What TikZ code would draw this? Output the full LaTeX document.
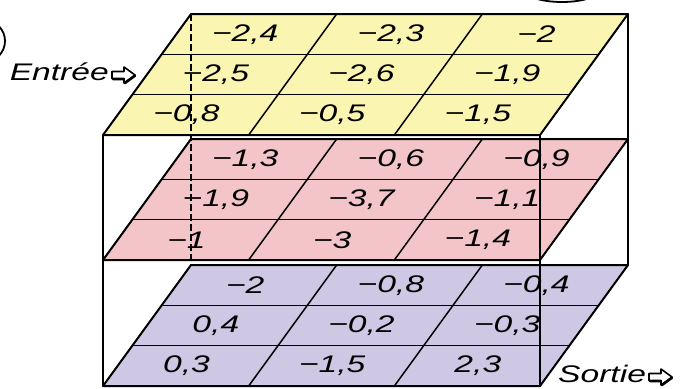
\documentclass[tikz,border=0pt]{standalone}
\usepackage{fontspec}
\setmainfont{Liberation Sans}[FakeStretch=1.4]
\usetikzlibrary{calc}
\definecolor{ylw}{RGB}{250,245,176}
\definecolor{pnk}{RGB}{243,197,201}
\definecolor{plm}{RGB}{206,200,229}
\newcommand\mklayer[3]{%
  \coordinate (#1-fl) at (103,#2);
  \coordinate (#1-fr) at (540,#2);
  \coordinate (#1-br) at (628,{#2-121});
  \coordinate (#1-bl) at (191,{#2-121});
  \fill[#3] (#1-fl) -- (#1-fr) -- (#1-br) -- (#1-bl) -- cycle;
  \foreach \t in {1,2} {
    \draw[gridline] ($(#1-fl)!\t/3!(#1-bl)$) -- ($(#1-fr)!\t/3!(#1-br)$);
    \draw[gridline] ($(#1-fl)!\t/3!(#1-fr)$) -- ($(#1-bl)!\t/3!(#1-br)$);
  }
  \draw[edge] (#1-fl) -- (#1-fr) -- (#1-br) -- (#1-bl) -- cycle;
}
\newcommand\cellnum[5]{%
  \node[num] (#1-#3-#4) at ({103+437*(#4+0.5)/3+88*(1-(#3+0.5)/3)-4},{#2-121*(1-(#3+0.5)/3)}) {#5};
}
\newcommand\whitearrow[1]{%
  \draw[warrow,shift={(#1)}] (0,-3.5) -- (12,-3.5) -- (12,-8) -- (23,0) -- (12,8) -- (12,3.5) -- (0,3.5) -- cycle;
  \draw[line width=2.4pt,line cap=round,shift={(#1)}] (1,4.2) -- (12,4.2) (12.8,8.2) -- (23,0.8);
}
\begin{document}
\begin{tikzpicture}[x=1pt,y=-1pt,
  edge/.style={line width=2pt,line join=round},
  gridline/.style={line width=1.5pt},
  boxline/.style={line width=1.8pt},
  thinline/.style={line width=1.2pt},
  hid/.style={line width=1.2pt,dash pattern=on 7pt off 3pt},
  num/.style={font=\fontsize{24}{26}\selectfont\itshape,inner sep=0pt},
  lab/.style={font=\fontsize{24}{26}\selectfont\itshape,inner sep=0pt},
  warrow/.style={draw,fill=white,line width=1.6pt,line join=round}
]
\useasboundingbox (0,0) rectangle (687,388);
\fill[white] (0,0) rectangle (687,388);
% cropped circles
\begin{scope}
  \clip (0,0) rectangle (687,388);
  \draw[line width=1.8pt] (562,-12) ellipse [x radius=40, y radius=14];
  \draw[line width=1.8pt] (-16,41) circle [radius=21];
\end{scope}
% box corners
\coordinate (ftl) at (103,135);
\coordinate (fbl) at (103,386);
\coordinate (ftr) at (540,135);
\coordinate (fbr) at (540,386);
\coordinate (btr) at (628,14);
\coordinate (bbr) at (628,265);
\coordinate (btl) at (191,14);
\coordinate (bbl) at (191,265);
\draw[boxline] (btr) -- (bbr);
\draw[boxline] (ftl) -- (fbl);
% layers
\mklayer{y}{135}{ylw}
\mklayer{p}{260}{pnk}
\mklayer{v}{386}{plm}
% edges over layers
\draw[thinline] (ftr) -- (fbr);
\draw[hid] (btl) -- (bbl);
% numbers
\cellnum{y}{135}{0}{0}{−2,4}
\cellnum{y}{135}{0}{1}{−2,3}
\cellnum{y}{135}{0}{2}{−2}
\cellnum{y}{135}{1}{0}{−2,5}
\cellnum{y}{135}{1}{1}{−2,6}
\cellnum{y}{135}{1}{2}{−1,9}
\cellnum{y}{135}{2}{0}{−0,8}
\cellnum{y}{135}{2}{1}{−0,5}
\cellnum{y}{135}{2}{2}{−1,5}
\cellnum{p}{260}{0}{0}{−1,3}
\cellnum{p}{260}{0}{1}{−0,6}
\cellnum{p}{260}{0}{2}{−0,9}
\cellnum{p}{260}{1}{0}{−1,9}
\cellnum{p}{260}{1}{1}{−3,7}
\cellnum{p}{260}{1}{2}{−1,1}
\cellnum{p}{260}{2}{0}{−1}
\cellnum{p}{260}{2}{1}{−3}
\cellnum{p}{260}{2}{2}{−1,4}
\cellnum{v}{386}{0}{0}{−2}
\cellnum{v}{386}{0}{1}{−0,8}
\cellnum{v}{386}{0}{2}{−0,4}
\cellnum{v}{386}{1}{0}{0,4}
\cellnum{v}{386}{1}{1}{−0,2}
\cellnum{v}{386}{1}{2}{−0,3}
\cellnum{v}{386}{2}{0}{0,3}
\cellnum{v}{386}{2}{1}{−1,5}
\cellnum{v}{386}{2}{2}{2,3}
% labels
\node[lab,anchor=east] (entree) at (109,72) {Entrée};
\coordinate (ein) at (112,75);
\whitearrow{ein}
\node[lab,anchor=west] (sortie) at (558,374) {Sortie};
\coordinate (sout) at (649,377);
\whitearrow{sout}
\end{tikzpicture}
\end{document}
